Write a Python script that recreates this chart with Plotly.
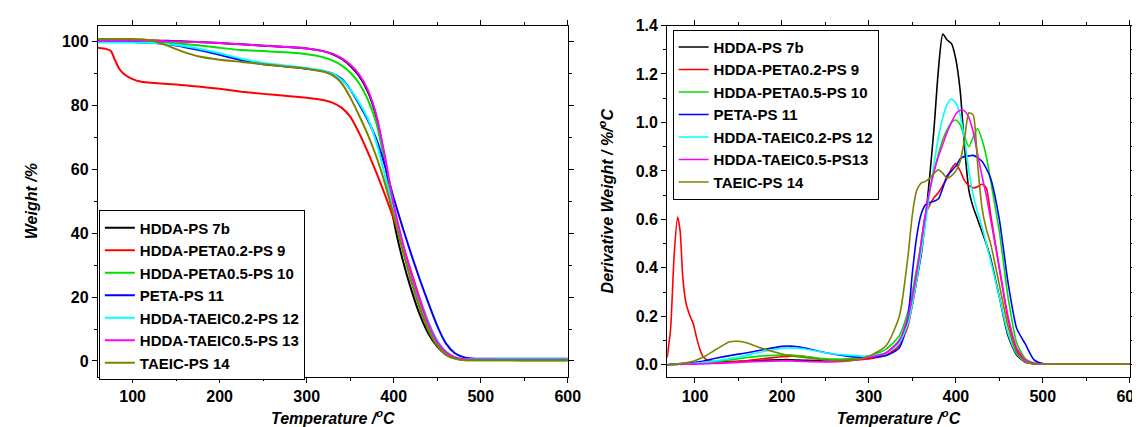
import plotly.graph_objects as go

# series names and colours
names = ['HDDA-PS 7b', 'HDDA-PETA0.2-PS 9', 'HDDA-PETA0.5-PS 10', 'PETA-PS 11',
         'HDDA-TAEIC0.2-PS 12', 'HDDA-TAEIC0.5-PS 13', 'TAEIC-PS 14']
names_dtg = ['HDDA-PS 7b', 'HDDA-PETA0.2-PS 9', 'HDDA-PETA0.5-PS 10', 'PETA-PS 11',
             'HDDA-TAEIC0.2-PS 12', 'HDDA-TAEIC0.5-PS13', 'TAEIC-PS 14']
colors = ['#000000', '#ff0000', '#00e000', '#0000ff', '#00ffff', '#ff00ff', '#808000']

# TGA: weight % vs temperature
T_tga = [60, 70, 75, 80, 85, 90, 100, 110, 125, 140, 150, 160, 175, 200, 225, 250, 275, 300,
         320, 330, 340, 350, 360, 370, 380, 390, 400, 410, 420, 430, 440, 450, 460, 470, 480,
         490, 500, 550, 600]
w_7b = [100.5, 100.5, 100.5, 100.5, 100.5, 100.5, 100.5, 100.4, 100.3, 100.2, 100.1, 100.0, 99.8,
        99.5, 99.1, 98.7, 98.3, 97.8, 96.9, 96.0, 94.6, 92.4, 89.3, 84.5, 76.5, 62.5, 44, 32,
        22.5, 14.5, 8.5, 4.5, 2.0, 0.8, 0.4, 0.3, 0.3, 0.25, 0.2]
w_9 = [98.0, 97.6, 97.0, 94.0, 91.3, 89.8, 88.2, 87.4, 87.0, 86.7, 86.5, 86.3, 85.9, 85.2, 84.3,
       83.6, 83.0, 82.4, 81.6, 80.8, 79.3, 76.5, 71.5, 65.5, 59, 52, 44.5, 36.5, 28, 19.5, 12,
       6, 2.5, 0.9, 0.4, 0.3, 0.3, 0.3, 0.3]
w_10 = [100.0, 100.0, 100.0, 100.0, 100.0, 100.0, 100.0, 99.9, 99.8, 99.6, 99.4, 99.2, 98.8,
        98.0, 97.3, 97.0, 96.6, 96.0, 95.0, 94.0, 92.5, 90.3, 87.0, 82.0, 74.5, 62, 47, 35.5,
        26, 17.5, 10.5, 5.5, 2.5, 0.8, 0.3, 0.2, 0.2, 0.2, 0.2]
w_11 = [99.9, 99.9, 99.9, 99.9, 99.9, 99.9, 99.8, 99.7, 99.5, 99.1, 98.7, 98.2, 97.4, 95.8, 94.1,
        92.9, 92.2, 91.5, 90.7, 89.9, 88.3, 85.0, 80.5, 75.5, 69.5, 61, 51, 42, 33.5, 25.5, 18,
        11, 5.5, 2.5, 1.2, 0.8, 0.7, 0.7, 0.7]
w_12 = [99.7, 99.7, 99.7, 99.7, 99.7, 99.7, 99.7, 99.6, 99.5, 99.2, 98.9, 98.5, 97.8, 96.3, 94.6,
        93.3, 92.5, 91.7, 90.8, 89.9, 88.0, 85.0, 81.0, 76.0, 68.5, 58, 46.5, 36, 27, 19, 12,
        6.5, 3, 1.2, 0.6, 0.5, 0.5, 0.5, 0.5]
w_13 = [100.3, 100.3, 100.3, 100.3, 100.3, 100.3, 100.3, 100.3, 100.2, 100.1, 100.0, 99.9, 99.8,
        99.5, 99.1, 98.7, 98.3, 97.8, 96.9, 96.1, 94.8, 92.8, 89.8, 85.0, 77, 64, 49, 37.5, 27.5,
        19, 11.5, 6, 2.8, 1.2, 0.6, 0.4, 0.35, 0.3, 0.3]
w_14 = [100.8, 100.8, 100.8, 100.8, 100.8, 100.8, 100.8, 100.7, 100.1, 98.7, 97.6, 96.6, 95.4,
        94.3, 93.6, 92.9, 92.2, 91.5, 90.5, 89.4, 87.0, 82.5, 77.0, 71.0, 64.0, 55.5, 45.5, 35,
        25, 16.5, 9.5, 4.8, 2.0, 0.8, 0.3, 0.2, 0.2, 0.2, 0.2]

# DTG: derivative weight %/C vs temperature
T_dtg = [68, 72, 76, 80, 83, 86, 90, 95, 98, 102, 106, 110, 115, 125, 140, 150, 160, 175, 200,
         210, 225, 250, 275, 300, 320, 335, 345, 350, 355, 360, 365, 370, 375, 380, 385, 390,
         395, 400, 405, 410, 415, 420, 425, 430, 435, 440, 450, 460, 470, 480, 490, 500, 550, 600]
d_7b = [0.0, 0.002, 0.003, 0.004, 0.005, 0.005, 0.006, 0.007, 0.007, 0.008, 0.008, 0.009, 0.01,
        0.011, 0.013, 0.014, 0.016, 0.018, 0.021, 0.021, 0.019, 0.016, 0.018, 0.028, 0.05, 0.1,
        0.18, 0.25, 0.35, 0.45, 0.6, 0.78, 0.98, 1.22, 1.365, 1.34, 1.325, 1.26, 1.13, 0.9,
        0.72, 0.65, 0.6, 0.55, 0.5, 0.44, 0.28, 0.12, 0.04, 0.01, 0.004, 0.003, 0.003, 0.003]
d_9 = [0.03, 0.15, 0.45, 0.61, 0.55, 0.36, 0.25, 0.195, 0.17, 0.11, 0.06, 0.03, 0.018, 0.013,
       0.012, 0.014, 0.017, 0.024, 0.033, 0.036, 0.035, 0.022, 0.02, 0.024, 0.04, 0.08, 0.16,
       0.25, 0.35, 0.5, 0.62, 0.66, 0.69, 0.71, 0.74, 0.77, 0.81, 0.83, 0.8, 0.76, 0.74, 0.73,
       0.735, 0.745, 0.73, 0.62, 0.4, 0.19, 0.06, 0.015, 0.005, 0.003, 0.003, 0.003]
d_10 = [0.0, 0.001, 0.002, 0.002, 0.003, 0.003, 0.004, 0.004, 0.005, 0.006, 0.006, 0.007, 0.009,
        0.013, 0.02, 0.025, 0.03, 0.036, 0.04, 0.04, 0.035, 0.025, 0.025, 0.035, 0.065, 0.12,
        0.22, 0.3, 0.4, 0.5, 0.62, 0.72, 0.8, 0.87, 0.93, 0.97, 1.0, 1.01, 0.99, 0.94, 0.9, 0.94,
        0.975, 0.93, 0.86, 0.76, 0.55, 0.28, 0.09, 0.025, 0.008, 0.004, 0.003, 0.003]
d_11 = [0.0, 0.001, 0.002, 0.003, 0.004, 0.005, 0.006, 0.008, 0.009, 0.011, 0.013, 0.016, 0.02,
        0.028, 0.038, 0.044, 0.05, 0.06, 0.076, 0.077, 0.07, 0.05, 0.036, 0.03, 0.038, 0.07, 0.2,
        0.38, 0.53, 0.62, 0.66, 0.67, 0.675, 0.685, 0.73, 0.78, 0.8, 0.82, 0.85, 0.86, 0.862,
        0.864, 0.855, 0.84, 0.81, 0.77, 0.6, 0.34, 0.15, 0.085, 0.02, 0.005, 0.004, 0.004]
d_12 = [0.0, 0.001, 0.002, 0.002, 0.003, 0.003, 0.004, 0.005, 0.006, 0.007, 0.008, 0.01, 0.012,
        0.017, 0.026, 0.032, 0.04, 0.052, 0.068, 0.07, 0.066, 0.05, 0.04, 0.036, 0.05, 0.09, 0.17,
        0.25, 0.35, 0.46, 0.58, 0.71, 0.83, 0.94, 1.02, 1.075, 1.097, 1.08, 1.03, 0.93, 0.8,
        0.7, 0.63, 0.57, 0.5, 0.43, 0.28, 0.13, 0.045, 0.012, 0.005, 0.003, 0.003, 0.003]
d_13 = [0.0, 0.001, 0.001, 0.002, 0.002, 0.002, 0.003, 0.003, 0.003, 0.003, 0.004, 0.004, 0.005,
        0.006, 0.008, 0.01, 0.012, 0.014, 0.016, 0.016, 0.014, 0.012, 0.015, 0.03, 0.05, 0.1,
        0.2, 0.28, 0.38, 0.5, 0.62, 0.72, 0.8, 0.86, 0.91, 0.96, 1.0, 1.035, 1.05, 1.048, 1.02,
        0.96, 0.87, 0.78, 0.7, 0.6, 0.4, 0.2, 0.07, 0.02, 0.006, 0.003, 0.003, 0.003]
d_14 = [0.0, 0.001, 0.002, 0.003, 0.004, 0.006, 0.008, 0.012, 0.015, 0.02, 0.026, 0.033, 0.043,
        0.065, 0.095, 0.097, 0.09, 0.07, 0.045, 0.038, 0.03, 0.02, 0.016, 0.035, 0.08, 0.2, 0.45,
        0.62, 0.72, 0.75, 0.757, 0.77, 0.79, 0.805, 0.79, 0.77, 0.78, 0.8, 0.84, 0.93, 1.04,
        1.03, 0.83, 0.65, 0.56, 0.5, 0.33, 0.16, 0.05, 0.012, 0.004, 0.003, 0.003, 0.003]

tga = [w_7b, w_9, w_10, w_11, w_12, w_13, w_14]
dtg = [d_7b, d_9, d_10, d_11, d_12, d_13, d_14]

FONT = 'Arial, Liberation Sans, sans-serif'

fig = go.Figure()
for name, c, w in zip(names, colors, tga):
    fig.add_trace(go.Scatter(x=T_tga, y=w, name=name, mode='lines',
                             line=dict(color=c, width=2, shape='spline', smoothing=0.6),
                             xaxis='x', yaxis='y', legend='legend'))
for name, c, d in zip(names_dtg, colors, dtg):
    fig.add_trace(go.Scatter(x=T_dtg, y=d, name=name, mode='lines',
                             line=dict(color=c, width=1.6, shape='spline', smoothing=0.6),
                             xaxis='x2', yaxis='y2', legend='legend2'))

tickfont = dict(family=FONT, size=16, color='black', weight='bold')
titlefont = dict(family=FONT, size=16, color='black', weight='bold', style='italic')
legfont = dict(family=FONT, size=15, color='black', weight='bold')
ax = dict(showline=True, linecolor='black', linewidth=1, mirror='allticks', ticks='outside',
          ticklen=5, tickcolor='black', showgrid=False, zeroline=False, tickfont=tickfont,
          automargin=False, ticklabeloverflow='allow')

fig.update_layout(
    width=1140, height=427,
    margin=dict(l=0, r=0, t=0, b=0),
    plot_bgcolor='white', paper_bgcolor='white',
    showlegend=True,
    xaxis=dict(ax, domain=[0.0788, 0.491], range=[60, 600], dtick=100, anchor='y',
               minor=dict(dtick=50, ticklen=3, ticks='outside', tickcolor='black'),
               title=dict(text='Temperature /<sup>o</sup>C', font=titlefont, standoff=8)),
    yaxis=dict(ax, domain=[0.136, 0.959], range=[-5, 105], dtick=20, anchor='x',
               minor=dict(dtick=10, ticklen=3, ticks='outside', tickcolor='black'),
               title=dict(text='Weight /%', font=titlefont, standoff=20)),
    xaxis2=dict(ax, domain=[0.5782, 0.984], range=[68, 600], tick0=100, dtick=100, anchor='y2',
                minor=dict(dtick=50, ticklen=3, ticks='outside', tickcolor='black'),
                title=dict(text='Temperature /<sup>o</sup>C', font=titlefont, standoff=8)),
    yaxis2=dict(ax, domain=[0.136, 0.959], range=[-0.05, 1.4], dtick=0.2, tickformat='.1f',
                anchor='x2',
                minor=dict(dtick=0.1, ticklen=3, ticks='outside', tickcolor='black'),
                title=dict(text='Derivative Weight / %/<sup>o</sup>C', font=titlefont, standoff=18)),
    legend=dict(x=0.0797, y=0.526, xanchor='left', yanchor='top', bgcolor='white',
                bordercolor='black', borderwidth=1, font=legfont),
    legend2=dict(x=0.583, y=0.949, xanchor='left', yanchor='top', bgcolor='white',
                 bordercolor='black', borderwidth=1, font=legfont),
)

fig.write_html('out.html')
